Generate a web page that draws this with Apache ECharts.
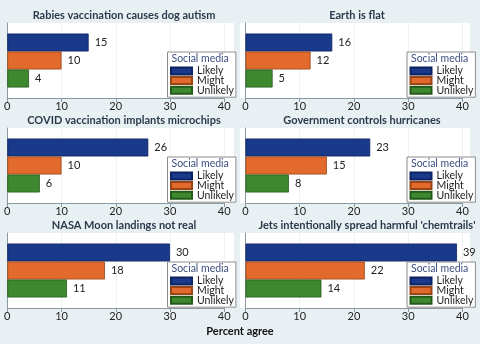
<!DOCTYPE html>
<html><head><meta charset="utf-8">
<script src="https://cdn.jsdelivr.net/npm/echarts@6/dist/echarts.min.js"></script>
<style>html,body{margin:0;padding:0;background:#E9F0F3}#c{width:480px;height:344px}</style>
</head><body><div id="c"></div>
<script>
// ---- data ----
const panelTitles = [
  'Rabies vaccination causes dog autism',
  'Earth is flat',
  'COVID vaccination implants microchips',
  'Government controls hurricanes',
  'NASA Moon landings not real',
  "Jets intentionally spread harmful 'chemtrails'"
];
const groups = ['Likely', 'Might', 'Unlikely'];
const likelyPct = [15, 16, 26, 23, 30, 39];
const mightPct = [10, 12, 10, 15, 18, 22];
const unlikelyPct = [4, 5, 6, 8, 11, 14];
const xMin = 0, xMax = 40, xStep = 10;
const legendTitle = 'Social media';
const xAxisTitle = 'Percent agree';

// ---- style / layout ----
const values = [likelyPct, mightPct, unlikelyPct];
const colors = ['#19398A', '#E26A2C', '#3E8930'];
const borders = ['#0D2260', '#9A4515', '#245A19'];
const FONT = 'Lato';
const colLeft = [7.3, 245.5];
const plotW = 216.9;
const rowTop = [23, 128, 233];
const plotH = 75;
const whiteX = [[7, 234], [240, 470]];
const titleCx = [[124, 357], [124, 362], [124, 367]];
const legendLeft = [167.5, 407];
const legendTopOff = 29;
const axisCol = '#8A98A3';

const grids = [], xAxes = [], yAxes = [], series = [], legends = [], titles = [], gfx = [];
panelTitles.forEach((t, p) => {
  const c = p % 2, r = Math.floor(p / 2);
  grids.push({left: colLeft[c], top: rowTop[r], width: plotW, height: plotH, containLabel: false});
  gfx.push({type: 'rect', z: -10, silent: true,
    shape: {x: whiteX[c][0], y: rowTop[r], width: whiteX[c][1] - whiteX[c][0], height: plotH},
    style: {fill: '#ffffff'}});
  xAxes.push({type: 'value', gridIndex: p, min: xMin, max: xMax, interval: xStep,
    axisLine: {show: true, lineStyle: {color: axisCol, width: 1}},
    axisTick: {show: true, length: 4, lineStyle: {color: axisCol}},
    axisLabel: {fontSize: 11, color: '#222', margin: 3, fontFamily: FONT},
    splitLine: {show: true, lineStyle: {color: '#EDF1F4', width: 1}}});
  yAxes.push({type: 'category', gridIndex: p, data: [''], inverse: true, offset: c ? 5.5 : 0,
    axisLine: {show: true, lineStyle: {color: axisCol, width: 1}},
    axisTick: {show: false}, axisLabel: {show: false}, splitLine: {show: false}});
  groups.forEach((g, k) => {
    series.push({type: 'bar', name: g, xAxisIndex: p, yAxisIndex: p,
      data: [values[k][p]], barWidth: 18, barGap: '0%',
      itemStyle: {color: colors[k], borderColor: borders[k], borderWidth: 0.8},
      label: {show: true, position: 'right', distance: 6, fontSize: 11, color: '#222', fontFamily: FONT}});
  });
  titles.push({text: t, left: titleCx[r][c], top: rowTop[r] - 7.5, textAlign: 'center', textVerticalAlign: 'middle', padding: 0,
    textStyle: {fontSize: 11, fontWeight: 'bold', color: '#2A3A4C', fontFamily: FONT}});
  legends.push({orient: 'vertical', left: legendLeft[c], top: rowTop[r] + legendTopOff, data: groups,
    icon: 'rect', itemWidth: 21, itemHeight: 7, itemGap: -1.4, padding: [13.5, 2, 1.5, 2.5],
    borderColor: '#8C8C8C', borderWidth: 1, backgroundColor: '#ffffff', borderRadius: 0, selectedMode: false,
    textStyle: {fontSize: 10.5, color: '#222', fontFamily: FONT}});
  titles.push({text: legendTitle, left: legendLeft[c] + 4, top: rowTop[r] + legendTopOff + 1.5, padding: 0,
    textStyle: {fontSize: 10.5, fontWeight: 'normal', color: '#3C4E82', fontFamily: FONT}});
});
titles.push({text: xAxisTitle, left: 240, top: 331, textAlign: 'center', textVerticalAlign: 'middle', padding: 0,
  textStyle: {fontSize: 11, fontWeight: 'bold', color: '#111', fontFamily: FONT}});

const chart = echarts.init(document.getElementById('c'), null, {renderer: 'canvas'});
chart.setOption({
  backgroundColor: '#E9F0F3',
  animation: false,
  textStyle: {fontFamily: FONT},
  title: titles, grid: grids, xAxis: xAxes, yAxis: yAxes, series: series, legend: legends,
  graphic: {elements: gfx}
});
</script></body></html>
